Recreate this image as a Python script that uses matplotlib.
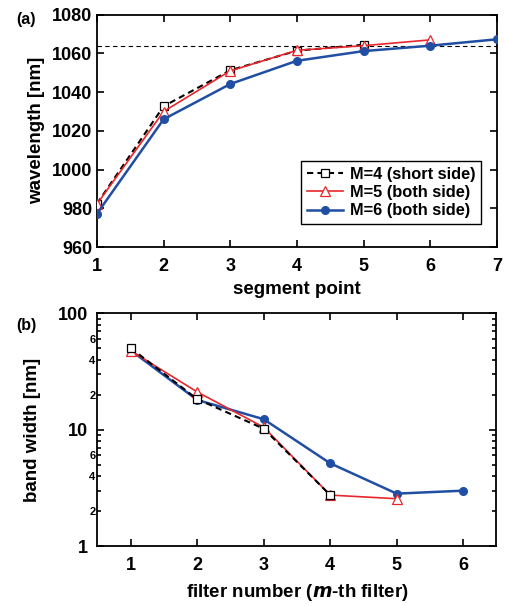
import numpy as np
import matplotlib
matplotlib.use('Agg')
import matplotlib.pyplot as plt
from matplotlib.ticker import FixedLocator, FixedFormatter

plt.rcParams['font.family'] = ['Liberation Sans', 'DejaVu Sans']
plt.rcParams['font.weight'] = 'bold'

# (a) wavelength vs segment point
seg_m4 = [1, 2, 3, 4, 5]
wl_m4 = [982.4, 1032.7, 1051.3, 1061.4, 1064.5]
seg_m5 = [1, 2, 3, 4, 5, 6]
wl_m5 = [982.2, 1030.0, 1051.0, 1061.6, 1064.0, 1067.0]
seg_m6 = [1, 2, 3, 4, 5, 6, 7]
wl_m6 = [977.2, 1026.0, 1044.2, 1056.2, 1061.2, 1064.0, 1067.3]
wl_ref = 1064

# (b) band width vs filter number
filt_m4 = [1, 2, 3, 4]
bw_m4 = [50.3, 18.3, 10.2, 2.74]
filt_m5 = [1, 2, 3, 4, 5]
bw_m5 = [47.7, 21.1, 10.5, 2.74, 2.55]
filt_m6 = [1, 2, 3, 4, 5, 6]
bw_m6 = [48.0, 18.0, 12.3, 5.14, 2.82, 2.99]

labels = ['M=4 (short side)', 'M=5 (both side)', 'M=6 (both side)']
RED = '#e8262b'
BLUE = '#1f4ea3'
FS = 13.5

fig = plt.figure(figsize=(5.05, 6.05), dpi=100)
ax1 = fig.add_axes([0.192, 0.5917, 0.792, 0.384])
ax2 = fig.add_axes([0.193, 0.0975, 0.790, 0.3846])


def style_axes(ax):
    for s in ax.spines.values():
        s.set_linewidth(1.3)
    ax.tick_params(which='both', direction='in', top=True, right=True,
                   width=1.2, labelsize=FS - 0.5)
    ax.tick_params(which='major', length=5)
    ax.tick_params(which='minor', length=3)
    ax.tick_params(axis='x', which='major', pad=8)
    for t in ax.get_xticklabels() + ax.get_yticklabels():
        t.set_fontweight('bold')


# ---- panel (a)
ax1.axhline(wl_ref, color='black', lw=0.8, ls=(0, (4, 3)), zorder=1)
ax1.plot(seg_m4, wl_m4, color='black', lw=1.5, ls=(0, (3, 2)),
         marker='s', ms=6, mfc='white', mec='black', mew=0.9,
         label=labels[0], zorder=2)
ax1.plot(seg_m5, wl_m5, color=RED, lw=1.2, marker='^', ms=6.5,
         mfc='white', mec=RED, mew=0.9, label=labels[1], zorder=3)
ax1.plot(seg_m6, wl_m6, color=BLUE, lw=1.8, marker='o', ms=5.5,
         mfc=BLUE, mec=BLUE, label=labels[2], zorder=4)
ax1.set_xlim(1, 7)
ax1.set_ylim(960, 1080)
ax1.set_xticks(range(1, 8))
ax1.set_yticks(range(960, 1081, 20))
ax1.set_xlabel('segment point', fontsize=FS, fontweight='bold', labelpad=4)
ax1.set_ylabel('wavelength [nm]', fontsize=FS, fontweight='bold', labelpad=5)
style_axes(ax1)
leg = ax1.legend(loc='lower right', bbox_to_anchor=(0.96, 0.099),
                 fontsize=11.8, handlelength=2.2, borderpad=0.35,
                 labelspacing=0.2, handletextpad=0.4, fancybox=False,
                 framealpha=1, edgecolor='black', borderaxespad=0)
leg.get_frame().set_linewidth(1.0)
for t in leg.get_texts():
    t.set_fontweight('bold')
fig.text(0.033, 0.967, '(a)', fontsize=11.5, fontweight='bold', va='center')

# ---- panel (b)
ax2.plot(filt_m6, bw_m6, color=BLUE, lw=1.8, marker='o', ms=5.5,
         mfc=BLUE, mec=BLUE, zorder=2)
ax2.plot(filt_m5, bw_m5, color=RED, lw=1.2, marker='^', ms=6.5,
         mfc='white', mec=RED, mew=0.9, zorder=3)
ax2.plot(filt_m4, bw_m4, color='black', lw=1.5, ls=(0, (3, 2)),
         marker='s', ms=6, mfc='white', mec='black', mew=0.9, zorder=4)
ax2.set_yscale('log')
ax2.set_xlim(0.5, 6.5)
ax2.set_ylim(1, 100)
ax2.set_xticks(range(1, 7))
ax2.yaxis.set_major_locator(FixedLocator([1, 10, 100]))
ax2.yaxis.set_major_formatter(FixedFormatter(['1', '10', '100']))
minor = [m * d for d in (1, 10) for m in range(2, 10)]
minor_lbl = [str(m) if m in (2, 4, 6) else '' for d in (1, 10) for m in range(2, 10)]
ax2.yaxis.set_minor_locator(FixedLocator(minor))
ax2.yaxis.set_minor_formatter(FixedFormatter(minor_lbl))
ax2.set_xlabel('filter number ($\\boldsymbol{m}$-th filter)', fontsize=FS,
               fontweight='bold', labelpad=6)
ax2.set_ylabel('band width [nm]', fontsize=FS, fontweight='bold', labelpad=12)
style_axes(ax2)
ax2.tick_params(axis='y', which='minor', labelsize=8, pad=1.5)
ax2.tick_params(axis='y', which='major', pad=7)
for t in ax2.get_yminorticklabels():
    t.set_fontweight('bold')
fig.text(0.033, 0.462, '(b)', fontsize=11.5, fontweight='bold', va='center')

fig.savefig('out.png', dpi=100)
